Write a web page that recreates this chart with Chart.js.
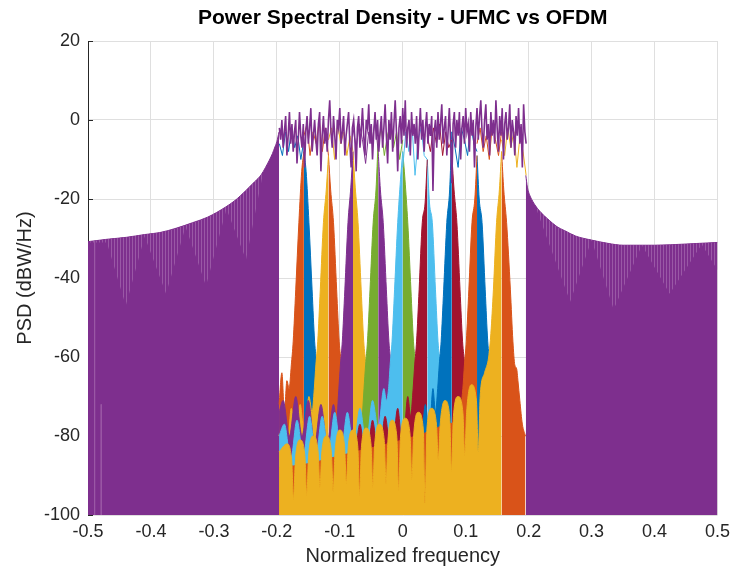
<!DOCTYPE html>
<html><head><meta charset="utf-8">
<script src="https://cdn.jsdelivr.net/npm/chart.js@4.4.1/dist/chart.umd.min.js"></script>
<style>html,body{margin:0;padding:0;background:#fff;overflow:hidden}canvas{display:block}</style>
</head><body>
<canvas id="c" width="736" height="568"></canvas>
<script>
// ---------------- texts ----------------
const chartTitle = 'Power Spectral Density - UFMC vs OFDM';
const xTitle = 'Normalized frequency';
const yTitle = 'PSD (dBW/Hz)';
const xRange = [-0.5, 0.5];
const yRange = [-100, 20];

// subband edges (normalized frequency), 10 subbands
const subbandEdges = [-0.196, -0.157, -0.118, -0.079, -0.039, 0, 0.039, 0.078, 0.118, 0.157, 0.196];

// ---------------- OFDM (out of band) ----------------
const ofdmLeft = [[-0.5,-30.8],[-0.47,-30.2],[-0.439,-29.7],[-0.41,-29],[-0.386,-28.5],[-0.36,-27.4],[-0.334,-26],[-0.31,-24.6],[-0.281,-22],[-0.265,-20.2],[-0.25,-18],[-0.235,-15.6],[-0.225,-13.9],[-0.218,-12],[-0.212,-10.2],[-0.207,-8.5],[-0.203,-6.8],[-0.2,-5.5],[-0.1965,-3]];
const ofdmLeftNullDepth = [[-0.5,-31],[-0.47,-31],[-0.44,-47],[-0.41,-29.5],[-0.376,-44],[-0.345,-27],[-0.3125,-42],[-0.28,-22.5],[-0.249,-35.4],[-0.222,-13.5]];
const ofdmRight = [[0.1955,-14],[0.198,-17],[0.203,-19.5],[0.21,-21.5],[0.22,-23.5],[0.23,-25],[0.245,-27],[0.257,-28],[0.275,-29.4],[0.3,-30.4],[0.325,-31.2],[0.35,-31.7],[0.4,-31.7],[0.45,-31.4],[0.5,-31]];
const ofdmRightNullDepth = [[0.205,-20],[0.21,-21.5],[0.266,-46],[0.3,-30.4],[0.335,-48],[0.38,-31.7],[0.424,-44],[0.475,-31.5],[0.5,-38]];
const ofdmNullLines = [[-0.4895,-30.6],[-0.4895,-100],[-0.485,null],[-0.479,-72],[-0.479,-100]];

// OFDM in-band PSD (dB), sampled from -0.196 every 0.002
const ofdmBandStart = -0.196, ofdmBandStep = 0.002;
const ofdmBand = [
 -2,-5,0,-7,-3,1,-9,-4,2,-6,
 -1,-8,-3,0,-11,-5,2,-4,-7,-1,
 -12,-3,1,-6,-2,3,-8,-4,0,-5,
 -9,-1,2,-13,-4,1,-6,-2,-8,0,
 5,-3,-7,1,-4,-10,0,-2,3,-6,
 -3,1,-9,-4,-1,2,-6,-12,-2,0,
 -5,-13,-2,1,-7,-3,3,-4,-9,0,
 -2,4,-6,-1,-10,-3,2,-5,0,-8,
 -3,1,-7,-2,4,-4,-11,0,-5,2,
 -8,-1,5,-3,-13,-2,1,-6,3,-4,
 5,-7,-2,0,-9,2,-4,-1,-6,1,
 -10,-3,3,-5,0,-8,-2,2,-6,-1,
 -4,1,-18,-3,0,-7,2,-5,-1,4,
 -6,-2,1,-9,-3,3,-5,-16,-1,2,
 -7,0,-4,2,-10,-2,1,-6,3,-3,
 -1,-8,2,-4,0,-12,-2,3,-5,1,
 5,-3,-7,0,4,-5,-1,-9,2,-4,
 0,-6,5,-2,-8,1,-4,3,-10,-1,
 2,-5,-2,4,-7,0,-3,-9,1,-4,
 3,-6,-1,-12,4,-3,-6];

// ---------------- UFMC subbands: skirts / sidelobes (freq, dB) ----------------
const sb1Right = [[-0.157,-8],[-0.1535,-13],[-0.149,-26],[-0.144,-43],[-0.14,-56],[-0.1365,-62],[-0.134,-68],[-0.13,-75],[-0.125,-82]];
const sb2Left  = [[-0.1965,-72],[-0.192,-64],[-0.188,-74],[-0.184,-66],[-0.1805,-68],[-0.177,-62],[-0.174,-56],[-0.17,-43],[-0.165,-26],[-0.1605,-13],[-0.157,-8]];
const sb2Right = [[-0.118,-9],[-0.1145,-17.7],[-0.11,-26],[-0.105,-43],[-0.101,-56],[-0.0975,-62],[-0.095,-68],[-0.091,-76],[-0.086,-84]];
const sb3Left  = [[-0.1965,-80],[-0.19,-74],[-0.184,-84],[-0.177,-73],[-0.17,-82],[-0.163,-72],[-0.156,-80],[-0.149,-70],[-0.144,-74],[-0.1405,-68],[-0.138,-62],[-0.135,-56],[-0.131,-43],[-0.126,-26],[-0.1215,-17.7],[-0.118,-9]];
const sb3Right = [[-0.079,-8],[-0.0755,-17],[-0.071,-26],[-0.066,-43],[-0.062,-56],[-0.0585,-62],[-0.056,-68],[-0.052,-76],[-0.047,-84]];
const sb4Left  = [[-0.1965,-74],[-0.19,-71],[-0.18,-80],[-0.17,-70],[-0.16,-80],[-0.15,-71],[-0.14,-82],[-0.13,-72],[-0.12,-82],[-0.11,-72],[-0.105,-76],[-0.1015,-68],[-0.099,-62],[-0.096,-56],[-0.092,-43],[-0.087,-26],[-0.0825,-17],[-0.079,-8]];
const sb4Right = [[-0.039,-8],[-0.0355,-17.7],[-0.031,-26],[-0.026,-43],[-0.022,-56],[-0.0185,-62],[-0.016,-68],[-0.012,-76],[-0.007,-84]];
const sb5Left  = [[-0.066,-80],[-0.0615,-68],[-0.059,-62],[-0.056,-56],[-0.052,-43],[-0.047,-26],[-0.0425,-17.7],[-0.039,-5]];
const sb5Right = [[0,-8],[0.0035,-15],[0.008,-26],[0.013,-43],[0.017,-56],[0.0205,-62],[0.023,-68],[0.027,-76],[0.032,-84]];
const sb6Left  = [[-0.1965,-80],[-0.188,-77],[-0.178,-86],[-0.168,-76],[-0.158,-85],[-0.148,-75],[-0.138,-85],[-0.128,-75],[-0.118,-84],[-0.108,-74],[-0.098,-84],[-0.088,-74],[-0.078,-83],[-0.068,-73],[-0.058,-82],[-0.048,-71],[-0.039,-78],[-0.03,-68],[-0.026,-71],[-0.0225,-68],[-0.02,-62],[-0.017,-56],[-0.013,-43],[-0.008,-26],[-0.0035,-15],[0,-8]];
const sb6Right = [[0.039,-10],[0.0425,-21],[0.047,-26],[0.052,-43],[0.056,-56],[0.0595,-62],[0.062,-68],[0.066,-74],[0.071,-82]];
const sb7Left  = [[-0.078,-90],[-0.068,-77],[-0.058,-88],[-0.048,-76],[-0.038,-87],[-0.028,-75],[-0.018,-86],[-0.008,-73],[0,-84],[0.008,-70],[0.0125,-75],[0.0165,-68],[0.019,-62],[0.022,-56],[0.026,-43],[0.031,-26],[0.0355,-21],[0.039,-10]];
const sb7Right = [[0.078,-9],[0.0815,-17.7],[0.086,-26],[0.091,-43],[0.095,-56],[0.0985,-62],[0.101,-68],[0.105,-76],[0.11,-84]];
const sb8Left  = [[0.03,-82],[0.036,-72],[0.042,-80],[0.048,-68],[0.052,-74],[0.0555,-68],[0.058,-62],[0.061,-56],[0.065,-43],[0.07,-26],[0.0745,-17.7],[0.078,-3]];
const sb8Right = [[0.118,-9],[0.1215,-20],[0.126,-26],[0.131,-43],[0.135,-56],[0.1385,-62],[0.141,-68],[0.145,-78],[0.15,-85]];
const sb9Left  = [[-0.1965,-88],[-0.15,-87],[-0.1,-85],[-0.05,-83],[0,-81],[0.04,-79],[0.07,-77],[0.09,-75],[0.0955,-68],[0.098,-62],[0.101,-56],[0.105,-43],[0.11,-26],[0.1145,-20],[0.118,-9]];
const sb9Right = [[0.157,-8],[0.1605,-17.7],[0.165,-26],[0.171,-43],[0.175,-56],[0.178,-62],[0.181,-63],[0.183,-66],[0.186,-71],[0.19,-77],[0.195,-80]];
const sb10Left = [[-0.1965,-84],[-0.184,-82],
 [-0.1765,-86],[-0.1735,-96],[-0.1705,-86],[-0.163,-81],
 [-0.1555,-85],[-0.1525,-95],[-0.1495,-85],[-0.142,-80],
 [-0.1345,-84],[-0.1315,-93],[-0.1285,-84],[-0.121,-80],
 [-0.1135,-84],[-0.1105,-94],[-0.1075,-84],[-0.1,-78.5],
 [-0.0925,-82.5],[-0.0895,-92],[-0.0865,-82.5],[-0.079,-78.5],
 [-0.0715,-82.5],[-0.0685,-95],[-0.0655,-82.5],[-0.058,-78],
 [-0.0505,-82],[-0.0475,-93],[-0.0445,-82],[-0.037,-77],
 [-0.0295,-81],[-0.0265,-92],[-0.0235,-81],[-0.017,-76],
 [-0.0095,-80],[-0.0065,-94],[-0.0035,-80],[0.004,-75.5],
 [0.0115,-79.5],[0.0145,-91],[0.0175,-79.5],[0.025,-74],
 [0.0325,-78],[0.0355,-97],[0.0385,-78],[0.046,-73],
 [0.0535,-77],[0.0565,-86],[0.0595,-77],[0.067,-71],
 [0.0745,-75],[0.0775,-89],[0.0805,-75],[0.088,-70],
 [0.0955,-74],[0.0985,-85],[0.1015,-74],[0.109,-67],
 [0.117,-71],[0.12,-84],[0.123,-70],[0.13,-64],
 [0.1365,-60],[0.14,-54],[0.144,-43],[0.149,-26],[0.1535,-17.7],[0.157,-8]];

// in-band PSD of each subband (9 samples across its band), dB
const sbBand = [
 [-6,-9,-3,-8,-2,-7,-4,-10,-5],
 [-4,-1,-9,-3,-6,0,-8,-2,-9],
 [-5,-2,-10,-1,-6,-3,-9,-4,-8],
 [-2,-7,-1,-5,-11,-3,-6,0,-8],
 [-6,-2,-9,-4,-1,-7,-3,-10,-5],
 [-12,-3,-8,-1,-14,-5,-2,-9,-10],
 [-4,-8,-2,-6,-1,-9,-3,-7,-5],
 [-3,-7,-12,-2,-5,-9,-1,-6,-8],
 [-6,-2,-8,-4,-10,-1,-5,-9,-3],
 [-5,-9,-2,-7,-3,-12,-4,-8,-14]];

// ---------------- styles ----------------
const C = {blue:'#0072BD', orange:'#D95319', yellow:'#EDB120', purple:'#7E2F8E', green:'#77AC30', lightBlue:'#4DBEEE', darkRed:'#A2142F'};
const sbColors = [C.blue, C.orange, C.yellow, C.purple, C.green, C.lightBlue, C.darkRed, C.blue, C.orange, C.yellow];
const FONT = "'Liberation Sans', Arial, Helvetica, sans-serif";
const TXT = '#262626';

// stripe pattern for the OFDM out-of-band nulls
const pc = document.createElement('canvas'); pc.width = 3; pc.height = 4;
const pg = pc.getContext('2d');
pg.fillStyle = C.purple; pg.fillRect(0,0,3,4);
pg.fillStyle = '#9a58a6'; pg.fillRect(0,0,1,4);
const stripe = pg.createPattern(pc, 'repeat');

const toXY = arr => arr.map(p => ({x: p[0], y: p[1]}));
const layers = []; // bottom -> top
function addFill(pairs, color) {
  layers.push({data: toXY(pairs), borderColor: color, backgroundColor: color, borderWidth: 1,
    pointRadius: 0, fill: {value: -100}, tension: 0.3, cubicInterpolationMode: 'monotone'});
}
function addStripes(pairs) {
  layers.push({data: toXY(pairs), borderColor: 'rgba(0,0,0,0)', backgroundColor: stripe, borderWidth: 0,
    pointRadius: 0, fill: {target: '-1', above: stripe, below: stripe}, tension: 0});
}
function addLine(pairs, color, w) {
  layers.push({data: toXY(pairs), borderColor: color, backgroundColor: color, borderWidth: w,
    pointRadius: 0, fill: false, tension: 0, spanGaps: false});
}

// OFDM out of band
addFill(ofdmLeft, C.purple);
addStripes(ofdmLeftNullDepth);
addFill(ofdmRight, C.purple);
addStripes(ofdmRightNullDepth);
addLine(ofdmNullLines, '#9a58a6', 1);

// UFMC subbands in plotting order
addFill(sb1Right, C.blue);
addFill(sb2Left, C.orange);  addFill(sb2Right, C.orange);
addFill(sb3Left, C.yellow);  addFill(sb3Right, C.yellow);
addFill(sb4Left, C.purple);  addFill(sb4Right, C.purple);
addFill(sb5Left, C.green);   addFill(sb5Right, C.green);
addFill(sb6Left, C.lightBlue); addFill(sb6Right, C.lightBlue);
addFill(sb7Left, C.darkRed); addFill(sb7Right, C.darkRed);
addFill(sb8Left, C.blue);    addFill(sb8Right, C.blue);
addFill(sb9Left, C.orange);  addFill(sb9Right, C.orange);
addFill(sb10Left, C.yellow);

// in-band lines of the subbands
sbBand.forEach((vals, k) => {
  const a = subbandEdges[k], b = subbandEdges[k+1];
  addLine(vals.map((v, j) => [a + (b - a) * j / (vals.length - 1), v]), sbColors[k], 1);
});

// OFDM in-band line on top
addLine(ofdmBand.map((v, i) => [ofdmBandStart + i * ofdmBandStep, v]), C.purple, 1.6);

const datasets = layers.map((d, i) => Object.assign(d, {order: layers.length - i}));

const yTickMarks = {
  id: 'yTickMarks',
  beforeDatasetsDraw(chart) {
    const s = chart.scales.y, ctx = chart.ctx, x0 = chart.chartArea.left;
    ctx.save(); ctx.strokeStyle = TXT; ctx.lineWidth = 1; ctx.beginPath();
    s.ticks.forEach(t => { const y = Math.round(s.getPixelForValue(t.value)) + 0.5; ctx.moveTo(x0, y); ctx.lineTo(x0 + 5, y); });
    ctx.stroke(); ctx.restore();
  }
};

new Chart(document.getElementById('c'), {
  type: 'line',
  data: {datasets},
  plugins: [yTickMarks],
  options: {
    responsive: false, animation: false, devicePixelRatio: 1, events: [],
    layout: {padding: {right: 15, left: 0, top: 0, bottom: 0}},
    plugins: {
      legend: {display: false}, tooltip: {enabled: false},
      title: {display: true, text: chartTitle, fullSize: false, color: '#000',
        font: {family: FONT, size: 21, weight: 'bold'}, padding: {top: 6, bottom: 9.8}}
    },
    scales: {
      x: {
        type: 'linear', min: xRange[0], max: xRange[1],
        afterFit: s => { s.height = 53; },
        grid: {color: '#dfdfdf', drawTicks: false},
        border: {display: false},
        ticks: {stepSize: 0.1, autoSkip: false, maxRotation: 0, padding: 6, color: TXT,
          font: {family: FONT, size: 18},
          callback: v => { const r = Math.round(v * 10) / 10; return r === 0 ? '0' : String(r); }},
        title: {display: true, text: xTitle, color: TXT, font: {family: FONT, size: 20}, padding: {top: 0, bottom: 0}}
      },
      y: {
        min: yRange[0], max: yRange[1],
        afterFit: s => { s.width = 88; },
        grid: {color: '#dfdfdf', drawTicks: false},
        border: {color: TXT, width: 1},
        ticks: {stepSize: 20, padding: 8, color: TXT, font: {family: FONT, size: 18}},
        title: {display: true, text: yTitle, color: TXT, font: {family: FONT, size: 20}, padding: {top: 13, bottom: 0}}
      }
    }
  }
});
</script>
</body></html>
